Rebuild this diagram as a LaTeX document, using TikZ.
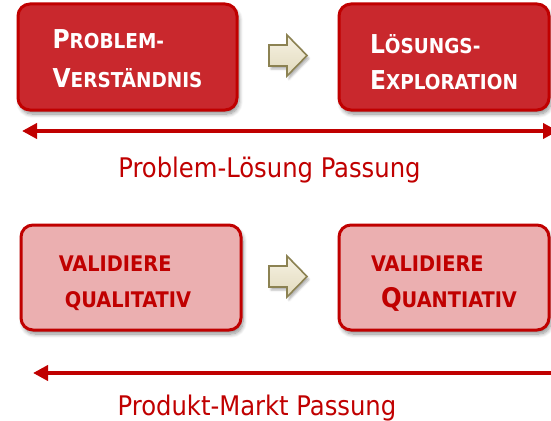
\documentclass[tikz,border=0pt]{standalone}
\usepackage{fontspec}
\setmainfont{DejaVu Sans Condensed}
\usetikzlibrary{arrows.meta,shadows.blur}
\definecolor{boxred}{RGB}{201,40,45}
\definecolor{darkred}{RGB}{192,0,0}
\definecolor{pinkfill}{RGB}{235,175,176}
\definecolor{creamtop}{RGB}{246,242,228}
\definecolor{creambot}{RGB}{226,218,188}
\definecolor{olive}{RGB}{140,130,82}
\newcommand\BigC[1]{{\fontsize{26}{39}\selectfont #1}}
\newcommand\BigQ[1]{{\fontsize{27}{36}\selectfont #1}}
\newcommand\fatarrow[1]{\draw[smallarrow] (#1) ++(-19,-11) -- ++(18,0) -- ++(0,-10) -- ++(20,20.5) -- ++(-20,20.5) -- ++(0,-10) -- ++(-18,0) -- cycle;}
\begin{document}
\begin{tikzpicture}[x=1pt,y=-1pt,
  basebox/.style={rectangle, rounded corners=12pt, line width=3pt, draw=darkred,
    align=left, inner sep=0pt,
    blur shadow={shadow xshift=2pt, shadow yshift=-4pt, shadow blur steps=8, shadow opacity=45, shadow blur radius=4pt}},
  topbox/.style={basebox, fill=boxred, text=white, font=\bfseries\fontsize{20.5}{39}\selectfont},
  lowbox/.style={basebox, fill=pinkfill, text=darkred, font=\bfseries\fontsize{21.5}{36}\selectfont},
  smallarrow/.style={draw=olive, line width=1.6pt, line join=miter, top color=creamtop, bottom color=creambot,
    blur shadow={shadow xshift=2pt, shadow yshift=-3pt, shadow blur steps=4, shadow opacity=30, shadow blur radius=2pt}},
  bigarrow/.style={draw=darkred, line width=4pt},
  caption/.style={text=darkred, font=\fontsize{27}{30}\selectfont, anchor=base, inner sep=0pt}
]
\useasboundingbox (0,0) rectangle (551,420);
\clip (0,0) rectangle (551,420);

% top row
\node[topbox, minimum width=219pt, minimum height=106pt] (pv) at (127.5,57)
  {\rule{0pt}{23pt}\BigC{P}ROBLEM-\\\BigC{V}ERSTÄNDNIS};
\node[topbox, font=\bfseries\fontsize{20.5}{36}\selectfont, minimum width=210pt, minimum height=106pt] (le) at (444,57)
  {\rule{0pt}{30pt}\BigC{L}ÖSUNGS-\\\BigC{E}XPLORATION};
\fatarrow{288,56}

\coordinate (a1l) at (22,131);
\coordinate (a1r) at (558,131);
\draw[bigarrow, {Triangle[length=15pt,width=15pt]}-{Triangle[length=15pt,width=15pt]}] (a1l) -- (a1r);
\node[caption] (c1) at (269.5,177) {Problem-Lösung Passung};

% bottom row
\node[lowbox, minimum width=220pt, minimum height=105pt] (vq) at (131,277.5)
  {\rule{0pt}{28pt}VALIDIERE\\\hspace*{6pt}QUALITATIV\hspace*{12pt}};
\node[lowbox, minimum width=210pt, minimum height=105pt] (vn) at (444,277.5)
  {\rule{0pt}{28.5pt}VALIDIERE\\\hspace*{10pt}\BigQ{Q}UANTIATIV};
\fatarrow{288,277}

\coordinate (a2l) at (33,373);
\coordinate (a2r) at (560,373);
\draw[bigarrow, {Triangle[length=15pt,width=15pt]}-] (a2l) -- (a2r);
\node[caption] (c2) at (257,415) {Produkt-Markt Passung};
\end{tikzpicture}
\end{document}
